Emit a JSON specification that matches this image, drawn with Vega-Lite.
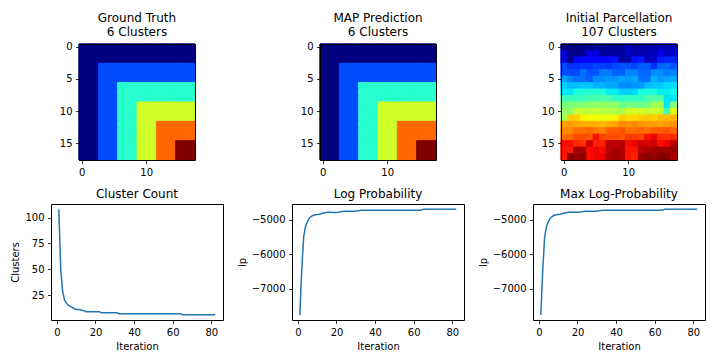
{
  "$schema": "https://vega.github.io/schema/vega-lite/v6.json",
  "background": "white",
  "padding": {"left": 10, "top": 11, "right": 5, "bottom": 5},
  "columns": 3,
  "bounds": "flush",
  "spacing": {"row": 44, "column": 69},
  "resolve": {"scale": {"x": "independent", "y": "independent", "color": "independent", "stroke": "independent"}},
  "datasets": {
    "truth": [
      {"r":0,"c":0,"v":0},{"r":0,"c":1,"v":0},{"r":0,"c":2,"v":0},{"r":0,"c":3,"v":0},{"r":0,"c":4,"v":0},{"r":0,"c":5,"v":0},{"r":0,"c":6,"v":0},{"r":0,"c":7,"v":0},{"r":0,"c":8,"v":0},{"r":0,"c":9,"v":0},{"r":0,"c":10,"v":0},{"r":0,"c":11,"v":0},{"r":0,"c":12,"v":0},{"r":0,"c":13,"v":0},{"r":0,"c":14,"v":0},{"r":0,"c":15,"v":0},{"r":0,"c":16,"v":0},{"r":0,"c":17,"v":0},
      {"r":1,"c":0,"v":0},{"r":1,"c":1,"v":0},{"r":1,"c":2,"v":0},{"r":1,"c":3,"v":0},{"r":1,"c":4,"v":0},{"r":1,"c":5,"v":0},{"r":1,"c":6,"v":0},{"r":1,"c":7,"v":0},{"r":1,"c":8,"v":0},{"r":1,"c":9,"v":0},{"r":1,"c":10,"v":0},{"r":1,"c":11,"v":0},{"r":1,"c":12,"v":0},{"r":1,"c":13,"v":0},{"r":1,"c":14,"v":0},{"r":1,"c":15,"v":0},{"r":1,"c":16,"v":0},{"r":1,"c":17,"v":0},
      {"r":2,"c":0,"v":0},{"r":2,"c":1,"v":0},{"r":2,"c":2,"v":0},{"r":2,"c":3,"v":0},{"r":2,"c":4,"v":0},{"r":2,"c":5,"v":0},{"r":2,"c":6,"v":0},{"r":2,"c":7,"v":0},{"r":2,"c":8,"v":0},{"r":2,"c":9,"v":0},{"r":2,"c":10,"v":0},{"r":2,"c":11,"v":0},{"r":2,"c":12,"v":0},{"r":2,"c":13,"v":0},{"r":2,"c":14,"v":0},{"r":2,"c":15,"v":0},{"r":2,"c":16,"v":0},{"r":2,"c":17,"v":0},
      {"r":3,"c":0,"v":0},{"r":3,"c":1,"v":0},{"r":3,"c":2,"v":0},{"r":3,"c":3,"v":1},{"r":3,"c":4,"v":1},{"r":3,"c":5,"v":1},{"r":3,"c":6,"v":1},{"r":3,"c":7,"v":1},{"r":3,"c":8,"v":1},{"r":3,"c":9,"v":1},{"r":3,"c":10,"v":1},{"r":3,"c":11,"v":1},{"r":3,"c":12,"v":1},{"r":3,"c":13,"v":1},{"r":3,"c":14,"v":1},{"r":3,"c":15,"v":1},{"r":3,"c":16,"v":1},{"r":3,"c":17,"v":1},
      {"r":4,"c":0,"v":0},{"r":4,"c":1,"v":0},{"r":4,"c":2,"v":0},{"r":4,"c":3,"v":1},{"r":4,"c":4,"v":1},{"r":4,"c":5,"v":1},{"r":4,"c":6,"v":1},{"r":4,"c":7,"v":1},{"r":4,"c":8,"v":1},{"r":4,"c":9,"v":1},{"r":4,"c":10,"v":1},{"r":4,"c":11,"v":1},{"r":4,"c":12,"v":1},{"r":4,"c":13,"v":1},{"r":4,"c":14,"v":1},{"r":4,"c":15,"v":1},{"r":4,"c":16,"v":1},{"r":4,"c":17,"v":1},
      {"r":5,"c":0,"v":0},{"r":5,"c":1,"v":0},{"r":5,"c":2,"v":0},{"r":5,"c":3,"v":1},{"r":5,"c":4,"v":1},{"r":5,"c":5,"v":1},{"r":5,"c":6,"v":1},{"r":5,"c":7,"v":1},{"r":5,"c":8,"v":1},{"r":5,"c":9,"v":1},{"r":5,"c":10,"v":1},{"r":5,"c":11,"v":1},{"r":5,"c":12,"v":1},{"r":5,"c":13,"v":1},{"r":5,"c":14,"v":1},{"r":5,"c":15,"v":1},{"r":5,"c":16,"v":1},{"r":5,"c":17,"v":1},
      {"r":6,"c":0,"v":0},{"r":6,"c":1,"v":0},{"r":6,"c":2,"v":0},{"r":6,"c":3,"v":1},{"r":6,"c":4,"v":1},{"r":6,"c":5,"v":1},{"r":6,"c":6,"v":2},{"r":6,"c":7,"v":2},{"r":6,"c":8,"v":2},{"r":6,"c":9,"v":2},{"r":6,"c":10,"v":2},{"r":6,"c":11,"v":2},{"r":6,"c":12,"v":2},{"r":6,"c":13,"v":2},{"r":6,"c":14,"v":2},{"r":6,"c":15,"v":2},{"r":6,"c":16,"v":2},{"r":6,"c":17,"v":2},
      {"r":7,"c":0,"v":0},{"r":7,"c":1,"v":0},{"r":7,"c":2,"v":0},{"r":7,"c":3,"v":1},{"r":7,"c":4,"v":1},{"r":7,"c":5,"v":1},{"r":7,"c":6,"v":2},{"r":7,"c":7,"v":2},{"r":7,"c":8,"v":2},{"r":7,"c":9,"v":2},{"r":7,"c":10,"v":2},{"r":7,"c":11,"v":2},{"r":7,"c":12,"v":2},{"r":7,"c":13,"v":2},{"r":7,"c":14,"v":2},{"r":7,"c":15,"v":2},{"r":7,"c":16,"v":2},{"r":7,"c":17,"v":2},
      {"r":8,"c":0,"v":0},{"r":8,"c":1,"v":0},{"r":8,"c":2,"v":0},{"r":8,"c":3,"v":1},{"r":8,"c":4,"v":1},{"r":8,"c":5,"v":1},{"r":8,"c":6,"v":2},{"r":8,"c":7,"v":2},{"r":8,"c":8,"v":2},{"r":8,"c":9,"v":2},{"r":8,"c":10,"v":2},{"r":8,"c":11,"v":2},{"r":8,"c":12,"v":2},{"r":8,"c":13,"v":2},{"r":8,"c":14,"v":2},{"r":8,"c":15,"v":2},{"r":8,"c":16,"v":2},{"r":8,"c":17,"v":2},
      {"r":9,"c":0,"v":0},{"r":9,"c":1,"v":0},{"r":9,"c":2,"v":0},{"r":9,"c":3,"v":1},{"r":9,"c":4,"v":1},{"r":9,"c":5,"v":1},{"r":9,"c":6,"v":2},{"r":9,"c":7,"v":2},{"r":9,"c":8,"v":2},{"r":9,"c":9,"v":3},{"r":9,"c":10,"v":3},{"r":9,"c":11,"v":3},{"r":9,"c":12,"v":3},{"r":9,"c":13,"v":3},{"r":9,"c":14,"v":3},{"r":9,"c":15,"v":3},{"r":9,"c":16,"v":3},{"r":9,"c":17,"v":3},
      {"r":10,"c":0,"v":0},{"r":10,"c":1,"v":0},{"r":10,"c":2,"v":0},{"r":10,"c":3,"v":1},{"r":10,"c":4,"v":1},{"r":10,"c":5,"v":1},{"r":10,"c":6,"v":2},{"r":10,"c":7,"v":2},{"r":10,"c":8,"v":2},{"r":10,"c":9,"v":3},{"r":10,"c":10,"v":3},{"r":10,"c":11,"v":3},{"r":10,"c":12,"v":3},{"r":10,"c":13,"v":3},{"r":10,"c":14,"v":3},{"r":10,"c":15,"v":3},{"r":10,"c":16,"v":3},{"r":10,"c":17,"v":3},
      {"r":11,"c":0,"v":0},{"r":11,"c":1,"v":0},{"r":11,"c":2,"v":0},{"r":11,"c":3,"v":1},{"r":11,"c":4,"v":1},{"r":11,"c":5,"v":1},{"r":11,"c":6,"v":2},{"r":11,"c":7,"v":2},{"r":11,"c":8,"v":2},{"r":11,"c":9,"v":3},{"r":11,"c":10,"v":3},{"r":11,"c":11,"v":3},{"r":11,"c":12,"v":3},{"r":11,"c":13,"v":3},{"r":11,"c":14,"v":3},{"r":11,"c":15,"v":3},{"r":11,"c":16,"v":3},{"r":11,"c":17,"v":3},
      {"r":12,"c":0,"v":0},{"r":12,"c":1,"v":0},{"r":12,"c":2,"v":0},{"r":12,"c":3,"v":1},{"r":12,"c":4,"v":1},{"r":12,"c":5,"v":1},{"r":12,"c":6,"v":2},{"r":12,"c":7,"v":2},{"r":12,"c":8,"v":2},{"r":12,"c":9,"v":3},{"r":12,"c":10,"v":3},{"r":12,"c":11,"v":3},{"r":12,"c":12,"v":4},{"r":12,"c":13,"v":4},{"r":12,"c":14,"v":4},{"r":12,"c":15,"v":4},{"r":12,"c":16,"v":4},{"r":12,"c":17,"v":4},
      {"r":13,"c":0,"v":0},{"r":13,"c":1,"v":0},{"r":13,"c":2,"v":0},{"r":13,"c":3,"v":1},{"r":13,"c":4,"v":1},{"r":13,"c":5,"v":1},{"r":13,"c":6,"v":2},{"r":13,"c":7,"v":2},{"r":13,"c":8,"v":2},{"r":13,"c":9,"v":3},{"r":13,"c":10,"v":3},{"r":13,"c":11,"v":3},{"r":13,"c":12,"v":4},{"r":13,"c":13,"v":4},{"r":13,"c":14,"v":4},{"r":13,"c":15,"v":4},{"r":13,"c":16,"v":4},{"r":13,"c":17,"v":4},
      {"r":14,"c":0,"v":0},{"r":14,"c":1,"v":0},{"r":14,"c":2,"v":0},{"r":14,"c":3,"v":1},{"r":14,"c":4,"v":1},{"r":14,"c":5,"v":1},{"r":14,"c":6,"v":2},{"r":14,"c":7,"v":2},{"r":14,"c":8,"v":2},{"r":14,"c":9,"v":3},{"r":14,"c":10,"v":3},{"r":14,"c":11,"v":3},{"r":14,"c":12,"v":4},{"r":14,"c":13,"v":4},{"r":14,"c":14,"v":4},{"r":14,"c":15,"v":4},{"r":14,"c":16,"v":4},{"r":14,"c":17,"v":4},
      {"r":15,"c":0,"v":0},{"r":15,"c":1,"v":0},{"r":15,"c":2,"v":0},{"r":15,"c":3,"v":1},{"r":15,"c":4,"v":1},{"r":15,"c":5,"v":1},{"r":15,"c":6,"v":2},{"r":15,"c":7,"v":2},{"r":15,"c":8,"v":2},{"r":15,"c":9,"v":3},{"r":15,"c":10,"v":3},{"r":15,"c":11,"v":3},{"r":15,"c":12,"v":4},{"r":15,"c":13,"v":4},{"r":15,"c":14,"v":4},{"r":15,"c":15,"v":5},{"r":15,"c":16,"v":5},{"r":15,"c":17,"v":5},
      {"r":16,"c":0,"v":0},{"r":16,"c":1,"v":0},{"r":16,"c":2,"v":0},{"r":16,"c":3,"v":1},{"r":16,"c":4,"v":1},{"r":16,"c":5,"v":1},{"r":16,"c":6,"v":2},{"r":16,"c":7,"v":2},{"r":16,"c":8,"v":2},{"r":16,"c":9,"v":3},{"r":16,"c":10,"v":3},{"r":16,"c":11,"v":3},{"r":16,"c":12,"v":4},{"r":16,"c":13,"v":4},{"r":16,"c":14,"v":4},{"r":16,"c":15,"v":5},{"r":16,"c":16,"v":5},{"r":16,"c":17,"v":5},
      {"r":17,"c":0,"v":0},{"r":17,"c":1,"v":0},{"r":17,"c":2,"v":0},{"r":17,"c":3,"v":1},{"r":17,"c":4,"v":1},{"r":17,"c":5,"v":1},{"r":17,"c":6,"v":2},{"r":17,"c":7,"v":2},{"r":17,"c":8,"v":2},{"r":17,"c":9,"v":3},{"r":17,"c":10,"v":3},{"r":17,"c":11,"v":3},{"r":17,"c":12,"v":4},{"r":17,"c":13,"v":4},{"r":17,"c":14,"v":4},{"r":17,"c":15,"v":5},{"r":17,"c":16,"v":5},{"r":17,"c":17,"v":5}
    ],
    "init": [
      {"r":0,"c":0,"v":0},{"r":0,"c":1,"v":0},{"r":0,"c":2,"v":0},{"r":0,"c":3,"v":1},{"r":0,"c":4,"v":1},{"r":0,"c":5,"v":1},{"r":0,"c":6,"v":2},{"r":0,"c":7,"v":2},{"r":0,"c":8,"v":2},{"r":0,"c":9,"v":3},{"r":0,"c":10,"v":6},{"r":0,"c":11,"v":3},{"r":0,"c":12,"v":4},{"r":0,"c":13,"v":4},{"r":0,"c":14,"v":4},{"r":0,"c":15,"v":5},{"r":0,"c":16,"v":5},{"r":0,"c":17,"v":5},
      {"r":1,"c":0,"v":8},{"r":1,"c":1,"v":1},{"r":1,"c":2,"v":1},{"r":1,"c":3,"v":2},{"r":1,"c":4,"v":9},{"r":1,"c":5,"v":9},{"r":1,"c":6,"v":2},{"r":1,"c":7,"v":3},{"r":1,"c":8,"v":3},{"r":1,"c":9,"v":3},{"r":1,"c":10,"v":6},{"r":1,"c":11,"v":4},{"r":1,"c":12,"v":4},{"r":1,"c":13,"v":5},{"r":1,"c":14,"v":5},{"r":1,"c":15,"v":10},{"r":1,"c":16,"v":5},{"r":1,"c":17,"v":7},
      {"r":2,"c":0,"v":8},{"r":2,"c":1,"v":1},{"r":2,"c":2,"v":11},{"r":2,"c":3,"v":12},{"r":2,"c":4,"v":12},{"r":2,"c":5,"v":13},{"r":2,"c":6,"v":14},{"r":2,"c":7,"v":14},{"r":2,"c":8,"v":15},{"r":2,"c":9,"v":3},{"r":2,"c":10,"v":4},{"r":2,"c":11,"v":15},{"r":2,"c":12,"v":16},{"r":2,"c":13,"v":5},{"r":2,"c":14,"v":7},{"r":2,"c":15,"v":16},{"r":2,"c":16,"v":17},{"r":2,"c":17,"v":17},
      {"r":3,"c":0,"v":21},{"r":3,"c":1,"v":18},{"r":3,"c":2,"v":18},{"r":3,"c":3,"v":19},{"r":3,"c":4,"v":19},{"r":3,"c":5,"v":20},{"r":3,"c":6,"v":20},{"r":3,"c":7,"v":19},{"r":3,"c":8,"v":21},{"r":3,"c":9,"v":22},{"r":3,"c":10,"v":22},{"r":3,"c":11,"v":20},{"r":3,"c":12,"v":23},{"r":3,"c":13,"v":23},{"r":3,"c":14,"v":18},{"r":3,"c":15,"v":24},{"r":3,"c":16,"v":24},{"r":3,"c":17,"v":22},
      {"r":4,"c":0,"v":21},{"r":4,"c":1,"v":21},{"r":4,"c":2,"v":21},{"r":4,"c":3,"v":25},{"r":4,"c":4,"v":22},{"r":4,"c":5,"v":22},{"r":4,"c":6,"v":26},{"r":4,"c":7,"v":26},{"r":4,"c":8,"v":23},{"r":4,"c":9,"v":23},{"r":4,"c":10,"v":27},{"r":4,"c":11,"v":27},{"r":4,"c":12,"v":24},{"r":4,"c":13,"v":24},{"r":4,"c":14,"v":28},{"r":4,"c":15,"v":28},{"r":4,"c":16,"v":26},{"r":4,"c":17,"v":27},
      {"r":5,"c":0,"v":30},{"r":5,"c":1,"v":27},{"r":5,"c":2,"v":25},{"r":5,"c":3,"v":25},{"r":5,"c":4,"v":23},{"r":5,"c":5,"v":28},{"r":5,"c":6,"v":28},{"r":5,"c":7,"v":29},{"r":5,"c":8,"v":29},{"r":5,"c":9,"v":30},{"r":5,"c":10,"v":29},{"r":5,"c":11,"v":31},{"r":5,"c":12,"v":25},{"r":5,"c":13,"v":25},{"r":5,"c":14,"v":32},{"r":5,"c":15,"v":29},{"r":5,"c":16,"v":30},{"r":5,"c":17,"v":31},
      {"r":6,"c":0,"v":35},{"r":6,"c":1,"v":33},{"r":6,"c":2,"v":33},{"r":6,"c":3,"v":34},{"r":6,"c":4,"v":34},{"r":6,"c":5,"v":32},{"r":6,"c":6,"v":32},{"r":6,"c":7,"v":31},{"r":6,"c":8,"v":31},{"r":6,"c":9,"v":28},{"r":6,"c":10,"v":28},{"r":6,"c":11,"v":29},{"r":6,"c":12,"v":29},{"r":6,"c":13,"v":33},{"r":6,"c":14,"v":34},{"r":6,"c":15,"v":34},{"r":6,"c":16,"v":36},{"r":6,"c":17,"v":36},
      {"r":7,"c":0,"v":37},{"r":7,"c":1,"v":37},{"r":7,"c":2,"v":41},{"r":7,"c":3,"v":41},{"r":7,"c":4,"v":42},{"r":7,"c":5,"v":42},{"r":7,"c":6,"v":41},{"r":7,"c":7,"v":38},{"r":7,"c":8,"v":38},{"r":7,"c":9,"v":35},{"r":7,"c":10,"v":35},{"r":7,"c":11,"v":36},{"r":7,"c":12,"v":40},{"r":7,"c":13,"v":41},{"r":7,"c":14,"v":41},{"r":7,"c":15,"v":38},{"r":7,"c":16,"v":38},{"r":7,"c":17,"v":39},
      {"r":8,"c":0,"v":45},{"r":8,"c":1,"v":45},{"r":8,"c":2,"v":44},{"r":8,"c":3,"v":44},{"r":8,"c":4,"v":46},{"r":8,"c":5,"v":46},{"r":8,"c":6,"v":47},{"r":8,"c":7,"v":47},{"r":8,"c":8,"v":43},{"r":8,"c":9,"v":43},{"r":8,"c":10,"v":44},{"r":8,"c":11,"v":43},{"r":8,"c":12,"v":43},{"r":8,"c":13,"v":47},{"r":8,"c":14,"v":48},{"r":8,"c":15,"v":47},{"r":8,"c":16,"v":37},{"r":8,"c":17,"v":37},
      {"r":9,"c":0,"v":53},{"r":9,"c":1,"v":53},{"r":9,"c":2,"v":54},{"r":9,"c":3,"v":54},{"r":9,"c":4,"v":55},{"r":9,"c":5,"v":56},{"r":9,"c":6,"v":56},{"r":9,"c":7,"v":55},{"r":9,"c":8,"v":56},{"r":9,"c":9,"v":51},{"r":9,"c":10,"v":52},{"r":9,"c":11,"v":52},{"r":9,"c":12,"v":51},{"r":9,"c":13,"v":52},{"r":9,"c":14,"v":58},{"r":9,"c":15,"v":58},{"r":9,"c":16,"v":37},{"r":9,"c":17,"v":53},
      {"r":10,"c":0,"v":56},{"r":10,"c":1,"v":56},{"r":10,"c":2,"v":62},{"r":10,"c":3,"v":62},{"r":10,"c":4,"v":61},{"r":10,"c":5,"v":62},{"r":10,"c":6,"v":60},{"r":10,"c":7,"v":60},{"r":10,"c":8,"v":59},{"r":10,"c":9,"v":59},{"r":10,"c":10,"v":64},{"r":10,"c":11,"v":64},{"r":10,"c":12,"v":65},{"r":10,"c":13,"v":63},{"r":10,"c":14,"v":63},{"r":10,"c":15,"v":62},{"r":10,"c":16,"v":45},{"r":10,"c":17,"v":66},
      {"r":11,"c":0,"v":58},{"r":11,"c":1,"v":73},{"r":11,"c":2,"v":73},{"r":11,"c":3,"v":69},{"r":11,"c":4,"v":68},{"r":11,"c":5,"v":68},{"r":11,"c":6,"v":67},{"r":11,"c":7,"v":68},{"r":11,"c":8,"v":68},{"r":11,"c":9,"v":73},{"r":11,"c":10,"v":72},{"r":11,"c":11,"v":72},{"r":11,"c":12,"v":73},{"r":11,"c":13,"v":74},{"r":11,"c":14,"v":73},{"r":11,"c":15,"v":75},{"r":11,"c":16,"v":75},{"r":11,"c":17,"v":76},
      {"r":12,"c":0,"v":79},{"r":12,"c":1,"v":79},{"r":12,"c":2,"v":78},{"r":12,"c":3,"v":77},{"r":12,"c":4,"v":77},{"r":12,"c":5,"v":77},{"r":12,"c":6,"v":76},{"r":12,"c":7,"v":77},{"r":12,"c":8,"v":78},{"r":12,"c":9,"v":81},{"r":12,"c":10,"v":80},{"r":12,"c":11,"v":81},{"r":12,"c":12,"v":80},{"r":12,"c":13,"v":79},{"r":12,"c":14,"v":79},{"r":12,"c":15,"v":78},{"r":12,"c":16,"v":79},{"r":12,"c":17,"v":80},
      {"r":13,"c":0,"v":81},{"r":13,"c":1,"v":81},{"r":13,"c":2,"v":84},{"r":13,"c":3,"v":84},{"r":13,"c":4,"v":85},{"r":13,"c":5,"v":83},{"r":13,"c":6,"v":82},{"r":13,"c":7,"v":86},{"r":13,"c":8,"v":86},{"r":13,"c":9,"v":87},{"r":13,"c":10,"v":84},{"r":13,"c":11,"v":84},{"r":13,"c":12,"v":85},{"r":13,"c":13,"v":84},{"r":13,"c":14,"v":86},{"r":13,"c":15,"v":86},{"r":13,"c":16,"v":87},{"r":13,"c":17,"v":85},
      {"r":14,"c":0,"v":84},{"r":14,"c":1,"v":85},{"r":14,"c":2,"v":88},{"r":14,"c":3,"v":88},{"r":14,"c":4,"v":87},{"r":14,"c":5,"v":95},{"r":14,"c":6,"v":89},{"r":14,"c":7,"v":88},{"r":14,"c":8,"v":88},{"r":14,"c":9,"v":87},{"r":14,"c":10,"v":90},{"r":14,"c":11,"v":90},{"r":14,"c":12,"v":89},{"r":14,"c":13,"v":95},{"r":14,"c":14,"v":96},{"r":14,"c":15,"v":92},{"r":14,"c":16,"v":91},{"r":14,"c":17,"v":92},
      {"r":15,"c":0,"v":95},{"r":15,"c":1,"v":95},{"r":15,"c":2,"v":92},{"r":15,"c":3,"v":91},{"r":15,"c":4,"v":99},{"r":15,"c":5,"v":93},{"r":15,"c":6,"v":93},{"r":15,"c":7,"v":101},{"r":15,"c":8,"v":100},{"r":15,"c":9,"v":101},{"r":15,"c":10,"v":95},{"r":15,"c":11,"v":96},{"r":15,"c":12,"v":99},{"r":15,"c":13,"v":98},{"r":15,"c":14,"v":99},{"r":15,"c":15,"v":95},{"r":15,"c":16,"v":96},{"r":15,"c":17,"v":101},
      {"r":16,"c":0,"v":94},{"r":16,"c":1,"v":94},{"r":16,"c":2,"v":103},{"r":16,"c":3,"v":102},{"r":16,"c":4,"v":95},{"r":16,"c":5,"v":96},{"r":16,"c":6,"v":95},{"r":16,"c":7,"v":101},{"r":16,"c":8,"v":102},{"r":16,"c":9,"v":101},{"r":16,"c":10,"v":94},{"r":16,"c":11,"v":94},{"r":16,"c":12,"v":101},{"r":16,"c":13,"v":102},{"r":16,"c":14,"v":103},{"r":16,"c":15,"v":104},{"r":16,"c":16,"v":103},{"r":16,"c":17,"v":104},
      {"r":17,"c":0,"v":94},{"r":17,"c":1,"v":105},{"r":17,"c":2,"v":104},{"r":17,"c":3,"v":105},{"r":17,"c":4,"v":95},{"r":17,"c":5,"v":96},{"r":17,"c":6,"v":96},{"r":17,"c":7,"v":102},{"r":17,"c":8,"v":103},{"r":17,"c":9,"v":102},{"r":17,"c":10,"v":94},{"r":17,"c":11,"v":93},{"r":17,"c":12,"v":103},{"r":17,"c":13,"v":105},{"r":17,"c":14,"v":104},{"r":17,"c":15,"v":106},{"r":17,"c":16,"v":106},{"r":17,"c":17,"v":102}
    ],
    "iters": [
      {"i":1,"k":108,"lp":-7760,"mlp":-7760},{"i":2,"k":50,"lp":-6450,"mlp":-6450},{"i":3,"k":28,"lp":-5480,"mlp":-5480},{"i":4,"k":20,"lp":-5190,"mlp":-5190},{"i":5,"k":17,"lp":-5045,"mlp":-5045},
      {"i":6,"k":15,"lp":-4950,"mlp":-4950},{"i":7,"k":14,"lp":-4902,"mlp":-4902},{"i":8,"k":13,"lp":-4873,"mlp":-4873},{"i":9,"k":12,"lp":-4855,"mlp":-4855},{"i":10,"k":11,"lp":-4846,"mlp":-4846},
      {"i":11,"k":11,"lp":-4842,"mlp":-4842},{"i":12,"k":11,"lp":-4825,"mlp":-4825},{"i":13,"k":10,"lp":-4808,"mlp":-4808},{"i":14,"k":10,"lp":-4796,"mlp":-4796},{"i":15,"k":9,"lp":-4786,"mlp":-4786},
      {"i":16,"k":9,"lp":-4784,"mlp":-4784},{"i":17,"k":9,"lp":-4787,"mlp":-4784},{"i":18,"k":9,"lp":-4790,"mlp":-4784},{"i":19,"k":9,"lp":-4792,"mlp":-4784},{"i":20,"k":9,"lp":-4788,"mlp":-4784},
      {"i":21,"k":9,"lp":-4782,"mlp":-4782},{"i":22,"k":9,"lp":-4772,"mlp":-4772},{"i":23,"k":8,"lp":-4760,"mlp":-4760},{"i":24,"k":8,"lp":-4758,"mlp":-4758},{"i":25,"k":8,"lp":-4757,"mlp":-4757},
      {"i":26,"k":8,"lp":-4757,"mlp":-4757},{"i":27,"k":8,"lp":-4756,"mlp":-4756},{"i":28,"k":8,"lp":-4756,"mlp":-4756},{"i":29,"k":8,"lp":-4755,"mlp":-4755},{"i":30,"k":8,"lp":-4752,"mlp":-4752},
      {"i":31,"k":8,"lp":-4744,"mlp":-4744},{"i":32,"k":7,"lp":-4730,"mlp":-4730},{"i":33,"k":7,"lp":-4728,"mlp":-4728},{"i":34,"k":7,"lp":-4727,"mlp":-4727},{"i":35,"k":7,"lp":-4727,"mlp":-4727},
      {"i":36,"k":7,"lp":-4728,"mlp":-4727},{"i":37,"k":7,"lp":-4727,"mlp":-4727},{"i":38,"k":7,"lp":-4726,"mlp":-4726},{"i":39,"k":7,"lp":-4727,"mlp":-4726},{"i":40,"k":7,"lp":-4726,"mlp":-4726},
      {"i":41,"k":7,"lp":-4727,"mlp":-4726},{"i":42,"k":7,"lp":-4728,"mlp":-4726},{"i":43,"k":7,"lp":-4727,"mlp":-4726},{"i":44,"k":7,"lp":-4727,"mlp":-4726},{"i":45,"k":7,"lp":-4728,"mlp":-4726},
      {"i":46,"k":7,"lp":-4729,"mlp":-4726},{"i":47,"k":7,"lp":-4728,"mlp":-4726},{"i":48,"k":7,"lp":-4727,"mlp":-4726},{"i":49,"k":7,"lp":-4727,"mlp":-4726},{"i":50,"k":7,"lp":-4728,"mlp":-4726},
      {"i":51,"k":7,"lp":-4727,"mlp":-4726},{"i":52,"k":7,"lp":-4727,"mlp":-4726},{"i":53,"k":7,"lp":-4726,"mlp":-4726},{"i":54,"k":7,"lp":-4726,"mlp":-4726},{"i":55,"k":7,"lp":-4725,"mlp":-4725},
      {"i":56,"k":7,"lp":-4725,"mlp":-4725},{"i":57,"k":7,"lp":-4726,"mlp":-4725},{"i":58,"k":7,"lp":-4725,"mlp":-4725},{"i":59,"k":7,"lp":-4725,"mlp":-4725},{"i":60,"k":7,"lp":-4724,"mlp":-4724},
      {"i":61,"k":7,"lp":-4724,"mlp":-4724},{"i":62,"k":7,"lp":-4724,"mlp":-4724},{"i":63,"k":7,"lp":-4724,"mlp":-4724},{"i":64,"k":7,"lp":-4722,"mlp":-4722},{"i":65,"k":6,"lp":-4700,"mlp":-4700},
      {"i":66,"k":6,"lp":-4698,"mlp":-4698},{"i":67,"k":6,"lp":-4698,"mlp":-4698},{"i":68,"k":6,"lp":-4698,"mlp":-4698},{"i":69,"k":6,"lp":-4698,"mlp":-4698},{"i":70,"k":6,"lp":-4698,"mlp":-4698},
      {"i":71,"k":6,"lp":-4698,"mlp":-4698},{"i":72,"k":6,"lp":-4698,"mlp":-4698},{"i":73,"k":6,"lp":-4698,"mlp":-4698},{"i":74,"k":6,"lp":-4698,"mlp":-4698},{"i":75,"k":6,"lp":-4698,"mlp":-4698},
      {"i":76,"k":6,"lp":-4698,"mlp":-4698},{"i":77,"k":6,"lp":-4698,"mlp":-4698},{"i":78,"k":6,"lp":-4698,"mlp":-4698},{"i":79,"k":6,"lp":-4698,"mlp":-4698},{"i":80,"k":6,"lp":-4698,"mlp":-4698},
      {"i":81,"k":6,"lp":-4698,"mlp":-4698},{"i":82,"k":6,"lp":-4698,"mlp":-4698}
    ]
  },
  "concat": [
    {
      "width": 172, "height": 116,
      "view": {"stroke": null},
      "title": {"text": ["Ground Truth", "6 Clusters"]},
      "data": {"name": "truth"},
      "resolve": {"axis": {"x": "independent", "y": "independent"}},
      "layer": [
        {
          "mark": {"type": "rect", "strokeWidth": 1},
          "encoding": {
            "x": {"field": "c", "type": "ordinal", "scale": {"paddingInner": 0, "paddingOuter": 0, "range": [28, 144]}, "axis": {"values": [0, 10], "labelAngle": 0, "title": null, "domain": true, "domainColor": "black", "domainWidth": 1}},
            "y": {"field": "r", "type": "ordinal", "scale": {"paddingInner": 0, "paddingOuter": 0}, "axis": {"values": [0, 5, 10, 15], "title": null, "offset": -28, "domain": true, "domainColor": "black", "domainWidth": 1}},
            "color": {"field": "v", "type": "ordinal", "scale": {"domain": [0, 1, 2, 3, 4, 5], "range": ["#000080", "#004dff", "#29ffce", "#ceff29", "#ff6800", "#800000"]}, "legend": null},
            "stroke": {"field": "v", "type": "ordinal", "scale": {"domain": [0, 1, 2, 3, 4, 5], "range": ["#000080", "#004dff", "#29ffce", "#ceff29", "#ff6800", "#800000"]}, "legend": null}
          }
        },
        {
          "mark": {"type": "rect", "strokeWidth": 1},
          "encoding": {
            "x": {"field": "c", "type": "ordinal", "axis": {"orient": "top", "labels": false, "ticks": false, "title": null, "domain": true, "domainColor": "black", "domainWidth": 1}},
            "y": {"field": "r", "type": "ordinal", "axis": {"orient": "right", "labels": false, "ticks": false, "title": null, "offset": -28, "domain": true, "domainColor": "black", "domainWidth": 1}},
            "color": {"field": "v", "type": "ordinal", "legend": null},
            "stroke": {"field": "v", "type": "ordinal", "legend": null}
          }
        }
      ]
    },
    {
      "width": 172, "height": 116,
      "view": {"stroke": null},
      "title": {"text": ["MAP Prediction", "6 Clusters"]},
      "data": {"name": "truth"},
      "resolve": {"axis": {"x": "independent", "y": "independent"}},
      "layer": [
        {
          "mark": {"type": "rect", "strokeWidth": 1},
          "encoding": {
            "x": {"field": "c", "type": "ordinal", "scale": {"paddingInner": 0, "paddingOuter": 0, "range": [28, 144]}, "axis": {"values": [0, 10], "labelAngle": 0, "title": null, "domain": true, "domainColor": "black", "domainWidth": 1}},
            "y": {"field": "r", "type": "ordinal", "scale": {"paddingInner": 0, "paddingOuter": 0}, "axis": {"values": [0, 5, 10, 15], "title": null, "offset": -28, "domain": true, "domainColor": "black", "domainWidth": 1}},
            "color": {"field": "v", "type": "ordinal", "scale": {"domain": [0, 1, 2, 3, 4, 5], "range": ["#000080", "#004dff", "#29ffce", "#ceff29", "#ff6800", "#800000"]}, "legend": null},
            "stroke": {"field": "v", "type": "ordinal", "scale": {"domain": [0, 1, 2, 3, 4, 5], "range": ["#000080", "#004dff", "#29ffce", "#ceff29", "#ff6800", "#800000"]}, "legend": null}
          }
        },
        {
          "mark": {"type": "rect", "strokeWidth": 1},
          "encoding": {
            "x": {"field": "c", "type": "ordinal", "axis": {"orient": "top", "labels": false, "ticks": false, "title": null, "domain": true, "domainColor": "black", "domainWidth": 1}},
            "y": {"field": "r", "type": "ordinal", "axis": {"orient": "right", "labels": false, "ticks": false, "title": null, "offset": -28, "domain": true, "domainColor": "black", "domainWidth": 1}},
            "color": {"field": "v", "type": "ordinal", "legend": null},
            "stroke": {"field": "v", "type": "ordinal", "legend": null}
          }
        }
      ]
    },
    {
      "width": 172, "height": 116,
      "view": {"stroke": null},
      "title": {"text": ["Initial Parcellation", "107 Clusters"]},
      "data": {"name": "init"},
      "resolve": {"axis": {"x": "independent", "y": "independent"}},
      "layer": [
        {
          "mark": {"type": "rect", "strokeWidth": 1},
          "encoding": {
            "x": {"field": "c", "type": "ordinal", "scale": {"paddingInner": 0, "paddingOuter": 0, "range": [28, 144]}, "axis": {"values": [0, 10], "labelAngle": 0, "title": null, "domain": true, "domainColor": "black", "domainWidth": 1}},
            "y": {"field": "r", "type": "ordinal", "scale": {"paddingInner": 0, "paddingOuter": 0}, "axis": {"values": [0, 5, 10, 15], "title": null, "offset": -28, "domain": true, "domainColor": "black", "domainWidth": 1}},
            "color": {"field": "v", "type": "quantitative", "scale": {"type": "linear", "domain": [0, 11.66, 13.25, 36.04, 37.1, 39.75, 67.84, 68.9, 69.96, 94.34, 96.46, 106], "range": ["#000080", "#0000ff", "#0000ff", "#00dbff", "#00e6f7", "#15ffe2", "#efff08", "#f7f500", "#ffec00", "#ff1300", "#e80000", "#800000"], "interpolate": "rgb"}, "legend": null},
            "stroke": {"field": "v", "type": "quantitative", "scale": {"type": "linear", "domain": [0, 11.66, 13.25, 36.04, 37.1, 39.75, 67.84, 68.9, 69.96, 94.34, 96.46, 106], "range": ["#000080", "#0000ff", "#0000ff", "#00dbff", "#00e6f7", "#15ffe2", "#efff08", "#f7f500", "#ffec00", "#ff1300", "#e80000", "#800000"], "interpolate": "rgb"}, "legend": null}
          }
        },
        {
          "mark": {"type": "rect", "strokeWidth": 1},
          "encoding": {
            "x": {"field": "c", "type": "ordinal", "axis": {"orient": "top", "labels": false, "ticks": false, "title": null, "domain": true, "domainColor": "black", "domainWidth": 1}},
            "y": {"field": "r", "type": "ordinal", "axis": {"orient": "right", "labels": false, "ticks": false, "title": null, "offset": -28, "domain": true, "domainColor": "black", "domainWidth": 1}},
            "color": {"field": "v", "type": "quantitative", "legend": null},
            "stroke": {"field": "v", "type": "quantitative", "legend": null}
          }
        }
      ]
    },
    {
      "width": 172, "height": 116,
      "title": "Cluster Count",
      "data": {"name": "iters"},
      "mark": {"type": "line", "color": "#1f77b4", "strokeWidth": 1.5},
      "encoding": {
        "x": {"field": "i", "type": "quantitative", "scale": {"domain": [-3.05, 86.05], "nice": false, "zero": false}, "axis": {"values": [0, 20, 40, 60, 80], "title": "Iteration"}},
        "y": {"field": "k", "type": "quantitative", "scale": {"domain": [0.9, 113.1], "nice": false, "zero": false}, "axis": {"values": [25, 50, 75, 100], "title": "Clusters"}}
      }
    },
    {
      "width": 172, "height": 116,
      "title": "Log Probability",
      "data": {"name": "iters"},
      "mark": {"type": "line", "color": "#1f77b4", "strokeWidth": 1.5},
      "encoding": {
        "x": {"field": "i", "type": "quantitative", "scale": {"domain": [-3.05, 86.05], "nice": false, "zero": false}, "axis": {"values": [0, 20, 40, 60, 80], "title": "Iteration"}},
        "y": {"field": "lp", "type": "quantitative", "scale": {"domain": [-7907, -4545], "nice": false, "zero": false}, "axis": {"values": [-7000, -6000, -5000], "format": "d", "title": "lp"}}
      }
    },
    {
      "width": 172, "height": 116,
      "title": "Max Log-Probability",
      "data": {"name": "iters"},
      "mark": {"type": "line", "color": "#1f77b4", "strokeWidth": 1.5},
      "encoding": {
        "x": {"field": "i", "type": "quantitative", "scale": {"domain": [-3.05, 86.05], "nice": false, "zero": false}, "axis": {"values": [0, 20, 40, 60, 80], "title": "Iteration"}},
        "y": {"field": "mlp", "type": "quantitative", "scale": {"domain": [-7907, -4545], "nice": false, "zero": false}, "axis": {"values": [-7000, -6000, -5000], "format": "d", "title": "lp"}}
      }
    }
  ],
  "config": {
    "font": "DejaVu Sans",
    "view": {"stroke": "black", "strokeWidth": 1},
    "axis": {"domain": false, "grid": false, "ticks": true, "tickColor": "black", "tickSize": 3.5, "tickWidth": 0.8, "labelColor": "black", "labelFont": "DejaVu Sans", "labelFontSize": 10, "labelPadding": 3.5, "labelFlush": false, "titleFont": "DejaVu Sans", "titleFontSize": 10, "titleFontWeight": "normal", "titleColor": "black", "titlePadding": 4},
    "title": {"font": "DejaVu Sans", "fontSize": 12, "fontWeight": "normal", "color": "black", "offset": 3, "lineHeight": 14}
  }
}
